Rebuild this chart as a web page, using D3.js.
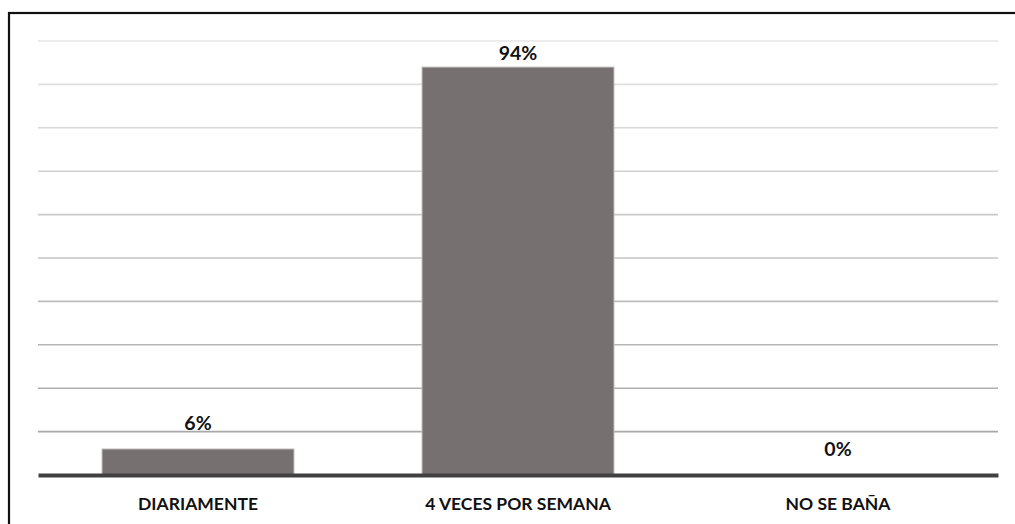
<!DOCTYPE html>
<html>
<head>
  <meta charset="utf-8">
  <script src="https://d3js.org/d3.v7.min.js"></script>
  <style>
    body { margin: 0; background: #fff; }
    .value-label { font-family: Lato, "Open Sans", sans-serif; font-weight: bold; font-size: 19.5px; fill: #111; }
    .cat-label { font-family: Lato, "Open Sans", sans-serif; font-weight: bold; font-size: 17.5px; fill: #111; }
  </style>
</head>
<body>
  <div id="chart"></div>
  <script>
    // Chart data
    const categories = ["DIARIAMENTE", "4 VECES POR SEMANA", "NO SE BAÑA"];
    const percents = [6, 94, 0];
    const gridTicks = [10, 20, 30, 40, 50, 60, 70, 80, 90, 100];

    const W = 1015, H = 524;
    const plot = { left: 38, right: 998, top: 41, bottom: 475 };

    const svg = d3.select("#chart")
      .append("svg")
      .attr("width", W)
      .attr("height", H);

    // frame around the chart (only left and top edges visible)
    svg.append("rect")
      .attr("x", 9)
      .attr("y", 13)
      .attr("width", W + 20)
      .attr("height", H + 20)
      .attr("fill", "none")
      .attr("stroke", "#111")
      .attr("stroke-width", 2.2);

    const xScale = d3.scaleBand()
      .domain(categories)
      .range([plot.left, plot.right])
      .paddingInner(0.4)
      .paddingOuter(0.2);

    const yScale = d3.scaleLinear()
      .domain([0, 100])
      .range([plot.bottom, plot.top]);

    // gridlines, getting darker towards the bottom
    const gridColor = d3.scaleLinear().domain([100, 10]).range(["#e6e6e6", "#a8a8a8"]);
    svg.selectAll(".grid")
      .data(gridTicks)
      .enter()
      .append("line")
      .attr("class", "grid")
      .attr("x1", plot.left)
      .attr("x2", plot.right)
      .attr("y1", d => yScale(d))
      .attr("y2", d => yScale(d))
      .attr("stroke", d => gridColor(d))
      .attr("stroke-width", 1.6);

    // bars
    svg.selectAll(".bar")
      .data(percents)
      .enter()
      .append("rect")
      .attr("class", "bar")
      .attr("x", (d, i) => xScale(categories[i]))
      .attr("y", d => yScale(d))
      .attr("width", xScale.bandwidth())
      .attr("height", d => yScale(0) - yScale(d))
      .attr("fill", "#767170")
      .attr("stroke", "#c4c2c2")
      .attr("stroke-width", 1);

    // baseline axis
    svg.append("g")
      .attr("transform", "translate(0," + yScale(0) + ")")
      .call(d3.axisBottom(xScale).tickSize(0))
      .call(g => g.select(".domain").attr("stroke", "#404040").attr("stroke-width", 4.2))
      .call(g => g.selectAll("text")
        .attr("class", "cat-label")
        .attr("font-family", null).attr("font-size", null).attr("fill", null)
        .attr("y", 35).attr("dy", 0));

    // value labels
    svg.selectAll(".value-label")
      .data(percents)
      .enter()
      .append("text")
      .attr("class", "value-label")
      .attr("x", (d, i) => xScale(categories[i]) + xScale.bandwidth() / 2)
      .attr("y", d => Math.max(yScale(d) - 19, 60))
      .attr("text-anchor", "middle")
      .text(d => d + "%");
  </script>
</body>
</html>
